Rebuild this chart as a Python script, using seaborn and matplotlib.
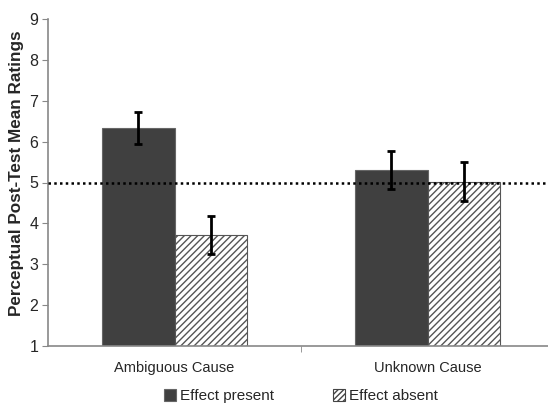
import matplotlib
matplotlib.use("Agg")
import matplotlib.pyplot as plt
import pandas as pd
import seaborn as sns
from matplotlib.patches import Patch

# Data #

causes = ["Ambiguous Cause", "Unknown Cause"]
conditions = ["Effect present", "Effect absent"]
present_means = [6.33, 5.30]
absent_means = [3.71, 5.02]
present_err = [0.40, 0.46]
absent_err = [0.46, 0.47]
baseline = 5

df = pd.DataFrame({
    "cause": causes + causes,
    "condition": [conditions[0]] * 2 + [conditions[1]] * 2,
    "rating": present_means + absent_means,
    "err": present_err + absent_err,
})

sns.set_style("white")
plt.rcParams['font.family'] = ['Liberation Sans', 'DejaVu Sans']
plt.rcParams['hatch.linewidth'] = 1.0
plt.rcParams['hatch.color'] = '#222222'

fig = plt.figure(figsize=(5.48, 4.04), dpi=100)
ax = fig.add_axes([48 / 548, 58 / 404, 1 - 48 / 548, 327 / 404])

sns.barplot(data=df, x="cause", y="rating", hue="condition", order=causes, hue_order=conditions,
            palette=["#404040", "white"], width=0.57, errorbar=None, ax=ax, legend=False,
            edgecolor="#666666", linewidth=0.8)

# hatch the "absent" bars and add error bars at bar centres
for i, cond in enumerate(conditions):
    cont = ax.containers[i]
    sub = df[df["condition"] == cond].set_index("cause").loc[causes]
    xs = []
    for bar in cont:
        xs.append(bar.get_x() + bar.get_width() / 2)
        if i == 1:
            bar.set_hatch("/////")
            bar.set_edgecolor("#555555")
    ax.errorbar(xs, sub["rating"], yerr=sub["err"], fmt="none", ecolor="black",
                elinewidth=2, capsize=3.2, capthick=2, zorder=5)

ax.axhline(baseline, ls=(0, (1, 1.3)), color="black", lw=1.8, zorder=4)

ax.set_ylim(1, 9)
ax.set_xlim(-0.5, 1.476)
ax.set_yticks(range(1, 10))
ax.set_xticks([0, 1])
ax.set_xticks([0.5], minor=True)
ax.tick_params(axis="x", which="major", length=0, pad=11, labelsize=10.5)
ax.tick_params(axis="x", which="minor", length=4, direction="out", color="#888888", bottom=True)
ax.tick_params(axis="y", length=4, direction="out", color="#888888", left=True, labelsize=11.5, pad=3)
ax.set_xlabel("")
ax.set_ylabel("Perceptual Post-Test Mean Ratings", fontsize=12.3, fontweight="bold")
ax.yaxis.set_label_coords(-0.047, 0.53)

sns.despine(ax=ax)
for s in ["left", "bottom"]:
    ax.spines[s].set_color("#888888")
    ax.spines[s].set_linewidth(1.2)

handles = [Patch(facecolor="#404040", edgecolor="#666666", lw=0.8),
           Patch(facecolor="white", edgecolor="#444444", hatch="//////", lw=0.8)]
fig.legend(handles, conditions, loc="center left", bbox_to_anchor=(164 / 548, 1 - 396 / 404),
           ncol=2, frameon=False, fontsize=11, handlelength=0.8, handleheight=0.8,
           handletextpad=0.25, columnspacing=3.85, borderpad=0, borderaxespad=0)

plt.savefig("out.png", format="png", dpi=100)
